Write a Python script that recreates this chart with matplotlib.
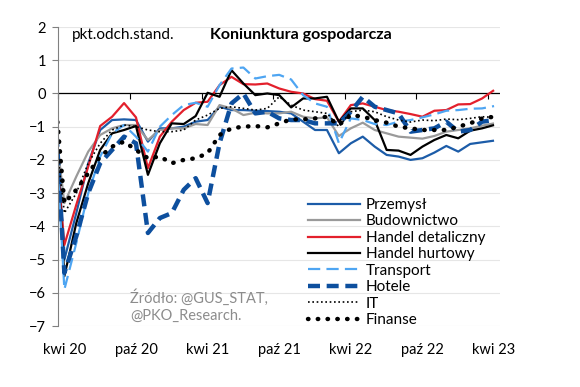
import numpy as np
import matplotlib.pyplot as plt
from matplotlib.lines import Line2D

plt.rcParams['font.family'] = ['Lato', 'DejaVu Sans']
plt.rcParams['font.size'] = 10.5

# miesiace: mar 20 (czesciowo poza osia), kwi 20 ... kwi 23
tick_labels = ["kwi 20", "paź 20", "kwi 21", "paź 21", "kwi 22", "paź 22", "kwi 23"]

przemysl = [1.0, -5.0, -3.6, -2.1, -1.1, -0.8, -0.78, -0.8, -1.45, -1.05, -1.05, -1.0, -0.85, -0.8,
            -0.4, -0.5, -0.5, -0.52, -0.53, -0.55, -0.6, -0.85, -1.1, -1.1, -1.8, -1.5, -1.3, -1.6,
            -1.85, -1.9, -2.0, -1.95, -1.78, -1.58, -1.75, -1.52, -1.47, -1.42]
budownictwo = [-0.3, -3.3, -2.5, -1.75, -1.25, -1.05, -0.95, -0.95, -1.4, -1.1, -1.05, -1.05, -0.92, -0.95,
               -0.35, -0.45, -0.65, -0.58, -0.6, -0.6, -0.55, -0.7, -0.75, -0.72, -1.28, -1.05, -0.88, -1.1,
               -1.2, -1.3, -1.33, -1.36, -1.28, -1.15, -1.1, -1.05, -0.97, -0.9]
handel_det = [-0.45, -4.56, -3.35, -2.2, -0.98, -0.7, -0.29, -0.72, -2.25, -1.3, -0.85, -0.5, -0.28, -0.25,
              0.25, 0.5, 0.28, 0.27, 0.3, 0.15, 0.05, 0.0, -0.17, -0.22, -0.85, -0.35, -0.3, -0.4,
              -0.5, -0.55, -0.62, -0.7, -0.52, -0.5, -0.33, -0.32, -0.15, 0.1]
handel_hurt = [0.5, -5.5, -3.9, -2.7, -1.7, -1.2, -1.1, -0.98, -2.45, -1.5, -0.9, -0.92, -0.68, 0.02,
               -0.1, 0.7, 0.3, -0.05, 0.0, -0.05, -0.42, -0.15, -0.15, -0.1, -0.85, -0.45, -0.45, -0.8,
               -1.7, -1.72, -1.85, -1.6, -1.4, -1.25, -1.35, -1.12, -1.05, -0.95]
transport = [0.7, -5.9, -4.5, -3.0, -1.9, -1.2, -0.95, -1.3, -1.75, -1.0, -0.65, -0.35, -0.28, -0.4,
             0.25, 0.75, 0.78, 0.45, 0.52, 0.56, 0.42, -0.05, -0.3, -0.4, -1.5, -0.75, -0.8, -0.92,
             -0.95, -0.85, -0.8, -0.72, -0.63, -0.52, -0.5, -0.46, -0.45, -0.38]
hotele = [1.0, -5.4, -4.3, -3.0, -2.1, -1.7, -1.3, -1.5, -4.2, -3.75, -3.6, -2.9, -2.55, -3.3,
          -1.5, -0.3, 0.0, -0.6, -0.55, -0.75, -0.8, -0.8, -0.9, -0.9, -0.9, -0.55, -0.1, -0.4,
          -0.5, -0.6, -1.15, -1.1, -1.05, -0.85, -1.15, -1.1, -0.85, -0.8]
it = [-0.4, -3.6, -3.0, -2.1, -1.5, -1.1, -0.95, -1.0, -1.1, -1.15, -1.15, -1.1, -0.8, -0.65,
      -0.45, -0.4, -0.45, -0.5, -0.45, -0.1, -0.35, -0.5, -0.55, -0.6, -1.0, -0.55, -0.5, -0.55,
      -0.7, -0.8, -0.86, -0.8, -0.82, -0.77, -0.79, -0.75, -0.7, -0.72]
finanse = [0.9, -3.3, -2.9, -2.4, -1.9, -1.6, -1.45, -1.7, -1.95, -1.9, -2.1, -2.0, -1.95, -1.8,
           -1.25, -1.05, -1.0, -0.98, -1.02, -0.9, -0.78, -0.78, -0.75, -0.7, -0.95, -0.65, -0.7, -0.8,
           -0.88, -1.0, -1.05, -1.1, -1.1, -1.1, -1.0, -0.9, -0.75, -0.7]

series = [
    ("Przemysł", przemysl, dict(color="#1c5ca8", lw=1.6, ls="-")),
    ("Budownictwo", budownictwo, dict(color="#9a9a9a", lw=1.6, ls="-")),
    ("Handel detaliczny", handel_det, dict(color="#e3202c", lw=1.6, ls="-")),
    ("Handel hurtowy", handel_hurt, dict(color="black", lw=1.6, ls="-")),
    ("Transport", transport, dict(color="#4ea5f2", lw=1.6, ls=(0, (5.5, 2.8)))),
    ("Hotele", hotele, dict(color="#0d4f9e", lw=3.2, ls=(0, (2.7, 1.5)))),
    ("IT", it, dict(color="black", lw=1.2, ls=(0, (1, 1.6)))),
    ("Finanse", finanse, dict(color="black", lw=3.2, ls=(0, (0.1, 2.1)), dash_capstyle="round")),
]

n = len(przemysl)
x = np.arange(n) - 0.5  # srodek kategorii, mar 20 wypada przed osia

fig = plt.figure(figsize=(5.8, 3.87), dpi=100)
ax = fig.add_axes([0.1007, 0.1576, 0.7614, 0.7726])

for name, vals, st in series:
    ax.plot(x, vals, label=name, solid_capstyle="butt", **st)

ax.set_xlim(0, n - 1)
ax.set_ylim(-7, 2)
ax.set_yticks(range(-7, 3))
ax.grid(axis="y", color="#e6e6e6", lw=0.8)
ax.set_axisbelow(True)
ax.axhline(0, color="black", lw=0.9, zorder=1.5)

for s in ["top", "right"]:
    ax.spines[s].set_visible(False)
ax.spines["left"].set_color("#808080")
ax.spines["bottom"].set_position(("data", 0))
ax.spines["bottom"].set_visible(False)
ax.tick_params(axis="y", direction="out", length=4, color="#808080", pad=5, labelsize=10.5)
ax.set_xticks(range(0, n - 1, 6))
ax.tick_params(axis="x", direction="out", length=4, color="black", labelbottom=False)

sec = ax.secondary_xaxis("bottom")
sec.set_xticks(np.arange(0, n - 1, 6) + 0.5, tick_labels)
sec.tick_params(length=0, pad=12, labelsize=10.5)
sec.spines["bottom"].set_visible(False)

fig.text(72 / 580, 1 - 35 / 387, "pkt.odch.stand.", fontsize=11, va="center")
fig.text(210 / 580, 1 - 35 / 387, "Koniunktura gospodarcza", fontsize=11.5, fontweight="bold", va="center")
fig.text(130 / 580, 1 - 306 / 387, "Źródło: @GUS_STAT,\n@PKO_Research.", fontsize=10.5,
         color="#8c8c8c", va="center", linespacing=1.25)

handles = []
for name, vals, st in series:
    handles.append(Line2D([], [], **st))
fig.legend(handles, [s[0] for s in series], loc="upper left", bbox_to_anchor=(308 / 580, 1 - 198 / 387),
           frameon=False, borderpad=0, borderaxespad=0, handlelength=3.4, handletextpad=0.4,
           labelspacing=0.16, fontsize=11)

fig.savefig("out.png", dpi=100)
